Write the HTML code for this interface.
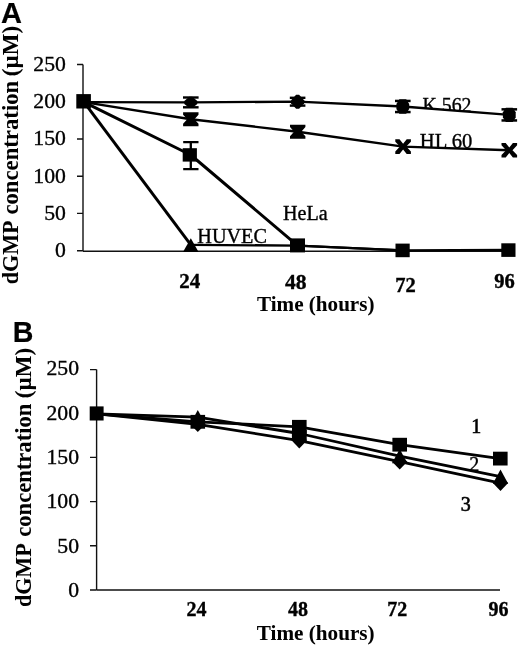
<!DOCTYPE html>
<html>
<head>
<meta charset="utf-8">
<title>dGMP concentration</title>
<style>
html,body{margin:0;padding:0;background:#fff;}
body{width:520px;height:646px;overflow:hidden;font-family:"Liberation Serif",serif;}
svg{display:block;will-change:transform;opacity:0.9999;}
text{font-family:"Liberation Serif",serif;fill:#000;stroke:#000;stroke-width:0.35;}
.t{font-size:20px;}
.b{font-size:inherit;font-weight:bold;stroke-width:0.05;}
.p{font-family:"Liberation Sans",sans-serif;font-weight:bold;font-size:20px;}
.ln{stroke:#000;stroke-width:2.8;fill:none;stroke-linejoin:round;}
.ax{stroke:#111;stroke-width:1.4;fill:none;}
.eb{stroke:#000;stroke-width:2.3;fill:none;}
</style>
</head>
<body>
<svg width="520" height="646" viewBox="0 0 520 646">
<rect width="520" height="646" fill="#fff"/>
<defs>
  <clipPath id="ck"><path d="M410,90 H485 V113.1 L410,107.7Z"/></clipPath>
  <clipPath id="ch"><path d="M410,125 H485 V149.8 L410,147.1Z"/></clipPath>
</defs>

<!-- ================= PANEL A ================= -->
<text class="p" x="0.9" y="23.2" style="font-size:29px;stroke-width:0.2">A</text>

<g transform="translate(18,0) rotate(-90)" style="font-size:22.6px">
  <text class="b" x="-284.2" y="0" textLength="63.8" lengthAdjust="spacingAndGlyphs">dGMP</text>
  <text class="b" x="-214.6" y="0" textLength="133.8" lengthAdjust="spacingAndGlyphs">concentration</text>
  <text class="b" x="-76.2" y="0" textLength="50.4" lengthAdjust="spacingAndGlyphs">(µM)</text>
</g>

<path class="ax" d="M83,64.5V251 M77,64.5H83 M77,101.7H83 M77,139H83 M77,176.2H83 M77,213.4H83 M77,250.7H83"/>
<path class="ax" d="M83,251.2H508" stroke-width="1.2"/>

<g class="t" text-anchor="end" transform="translate(65.9,0) scale(1.085,1)">
  <text x="0" y="70.9">250</text>
  <text x="0" y="108.1">200</text>
  <text x="0" y="145.4">150</text>
  <text x="0" y="182.6">100</text>
  <text x="0" y="219.8">50</text>
  <text x="0" y="257.1">0</text>
</g>
<g class="t" text-anchor="middle" style="font-weight:bold;stroke-width:0.1">
  <text x="189.7" y="288.1" textLength="21" lengthAdjust="spacingAndGlyphs">24</text>
  <text x="295.8" y="288.6" textLength="21.5" lengthAdjust="spacingAndGlyphs">48</text>
  <text x="405.4" y="292" textLength="20.5" lengthAdjust="spacingAndGlyphs">72</text>
  <text x="504.6" y="288" textLength="20.5" lengthAdjust="spacingAndGlyphs">96</text>
</g>
<text class="b" style="font-size:21px" x="257" y="311.3" textLength="117.5" lengthAdjust="spacingAndGlyphs">Time (hours)</text>

<!-- labels -->
<g clip-path="url(#ck)"><text class="t" x="422.5" y="112.2" textLength="49" lengthAdjust="spacingAndGlyphs">K 562</text></g>
<g clip-path="url(#ch)"><text class="t" x="419.8" y="147.8" textLength="52.5" lengthAdjust="spacingAndGlyphs">HL 60</text></g>
<text class="t" x="283" y="220.2" textLength="44.6" lengthAdjust="spacingAndGlyphs">HeLa</text>
<text class="t" x="197.3" y="243" textLength="69.6" lengthAdjust="spacingAndGlyphs">HUVEC</text>
<!-- series lines A -->
<path class="ln" style="stroke-width:2.3" d="M84.0,102.1 L190.8,102.4 L297.6,101.7 L402.8,106.5 L509.3,114.9"/>
<path class="ln" style="stroke-width:2.4" d="M84.0,102.1 L190.8,119.2 L297.7,131.7 L403.1,146.6 L509.3,150.2"/>
<path class="ln" style="stroke-width:3" d="M84.0,102.1 L190.8,155.0 L297.6,245.6"/>
<path class="ln" style="stroke-width:2.3" d="M297.6,245.6 L402.6,250.3 L508.4,250.0"/>
<path class="ln" style="stroke-width:3" d="M84.0,102.1 L190.8,244.8"/>
<path class="ln" style="stroke-width:2.3" d="M190.8,244.8 L297.6,245.6 L402.6,250.3"/>
<g fill="#000">
<path d="M190.8,238.2 L198.6,252.0 H183.0Z"/>
<rect x="76.3" y="94.1" width="14.6" height="14.4"/>
<rect x="182.7" y="148.2" width="14.2" height="13.4"/>
<rect x="290" y="238.4" width="15" height="14"/>
<rect x="395.5" y="243.6" width="14.2" height="13.6"/>
<rect x="501.3" y="243.3" width="14.2" height="13.6"/>
</g>
<path class="eb" d="M190.8,142.2V169.2 M183.2,142.2H198.5 M183.2,169.2H198.5"/>
<g fill="#000">
<rect x="183.0" y="96.3" width="15.6" height="2.4"/><rect x="183.0" y="106.1" width="15.6" height="2.4"/><path d="M184.3,100.9 L189.3,96.8 L192.3,96.8 L197.3,100.9 L197.3,103.9 L192.3,108.0 L189.3,108.0 L184.3,103.9Z"/>
<rect x="289.8" y="96.6" width="15.6" height="2.4"/><rect x="289.8" y="104.4" width="15.6" height="2.4"/><path d="M291.1,100.2 L296.1,94.7 L299.1,94.7 L304.1,100.2 L304.1,103.2 L299.1,108.7 L296.1,108.7 L291.1,103.2Z"/>
<rect x="395.0" y="99.7" width="15.6" height="2.5"/><rect x="395.0" y="110.8" width="15.6" height="2.5"/><path d="M396.4,103.9 L399.4,99.3 L406.2,99.3 L409.2,103.9 L409.2,109.1 L406.2,113.7 L399.4,113.7 L396.4,109.1Z"/>
<rect x="501.5" y="108.1" width="15.6" height="2.5"/><rect x="501.5" y="119.2" width="15.6" height="2.5"/><path d="M502.9,112.3 L505.9,107.7 L512.7,107.7 L515.7,112.3 L515.7,117.5 L512.7,122.1 L505.9,122.1 L502.9,117.5Z"/>
<path d="M183.1,112.3 L198.5,112.3 L198.5,114.8 L194.4,119.2 L198.5,123.8 L198.5,126.2 L183.1,126.2 L183.1,123.8 L187.2,119.2 L183.1,114.8Z"/>
<path d="M290.0,124.7 L305.4,124.7 L305.4,127.1 L301.3,131.7 L305.4,136.2 L305.4,138.7 L290.0,138.7 L290.0,136.2 L294.1,131.7 L290.0,127.1Z"/>
<path d="M395.3,139.3 L399.5,139.3 L403.1,143.8 L406.7,139.3 L410.9,139.3 L410.9,141.7 L406.3,146.6 L410.9,151.5 L410.9,153.9 L406.7,153.9 L403.1,149.4 L399.5,153.9 L395.3,153.9 L395.3,151.5 L399.9,146.6 L395.3,141.7Z"/>
<path d="M501.5,142.9 L505.7,142.9 L509.3,147.4 L512.9,142.9 L517.1,142.9 L517.1,145.3 L512.5,150.2 L517.1,155.1 L517.1,157.5 L512.9,157.5 L509.3,153.0 L505.7,157.5 L501.5,157.5 L501.5,155.1 L506.1,150.2 L501.5,145.3Z"/>
</g>

<!-- ================= PANEL B ================= -->
<text class="p" x="12.7" y="341.9" style="font-size:28.6px;stroke-width:0.2">B</text>

<g transform="translate(30.9,0) rotate(-90)" style="font-size:22.6px">
  <text class="b" x="-607.1" y="0" textLength="63.8" lengthAdjust="spacingAndGlyphs">dGMP</text>
  <text class="b" x="-536.8" y="0" textLength="133.2" lengthAdjust="spacingAndGlyphs">concentration</text>
  <text class="b" x="-398.3" y="0" textLength="50.4" lengthAdjust="spacingAndGlyphs">(µM)</text>
</g>

<path class="ax" d="M96.6,369.4V590 M90,369.6H96.6 M90,413.2H96.6 M90,457.4H96.6 M90,501.6H96.6 M90,545.8H96.6 M90,590H96.6"/>
<path class="ax" d="M96.6,590H500" stroke-width="1.2"/>

<g class="t" text-anchor="end" transform="translate(79,0) scale(1.085,1)">
  <text x="0" y="375.2">250</text>
  <text x="0" y="420">200</text>
  <text x="0" y="464.2">150</text>
  <text x="0" y="508.4">100</text>
  <text x="0" y="552.6">50</text>
  <text x="0" y="596.8">0</text>
</g>
<g class="t" text-anchor="middle" style="font-weight:bold;stroke-width:0.1">
  <text x="196.6" y="615.8">24</text>
  <text x="297.9" y="615.8">48</text>
  <text x="397.3" y="615.8">72</text>
  <text x="498.5" y="615.8">96</text>
</g>
<text class="b" style="font-size:21px" x="256.8" y="640" textLength="117.8" lengthAdjust="spacingAndGlyphs">Time (hours)</text>

<text class="t" x="471.3" y="433.3" style="stroke-width:0.6">1</text>
<text class="t" x="469.3" y="470.6">2</text>
<text class="t" x="460.8" y="511.2" style="stroke-width:0.6">3</text>

<path class="ln"  d="M97.0,413.9 L197.8,421.8 L299.3,426.8 L399.7,444.7 L500.3,458.6"/>
<path class="ln"  d="M97.0,413.9 L197.8,417.2 L299.3,433.5 L399.7,456.2 L500.5,476.7"/>
<path class="ln"  d="M97.0,413.9 L197.8,424.3 L299.3,440.6 L399.7,461.7 L500.5,483.1"/>
<g fill="#000">
<rect x="89.7" y="406.4" width="13.9" height="14.1"/>
<rect x="190.5" y="414.9" width="14.6" height="13.8"/>
<rect x="292.0" y="419.9" width="14.6" height="13.8"/>
<rect x="392.4" y="437.8" width="14.6" height="13.8"/>
<rect x="493.0" y="451.7" width="14.6" height="13.8"/>
<path d="M197.8,409.9 L205.5,424.2 H190.1Z"/>
<path d="M299.3,426.2 L307.0,440.5 H291.6Z"/>
<path d="M399.7,448.9 L407.4,463.2 H392.0Z"/>
<path d="M500.5,469.4 L508.2,483.7 H492.8Z"/>
<path d="M190.2,424.3 L197.8,416.5 L205.4,424.3 L197.8,432.1Z"/>
<path d="M291.7,440.6 L299.3,432.8 L306.9,440.6 L299.3,448.4Z"/>
<path d="M392.1,461.7 L399.7,453.9 L407.3,461.7 L399.7,469.5Z"/>
<path d="M492.9,483.1 L500.5,475.3 L508.1,483.1 L500.5,490.9Z"/>
<rect x="291.9" y="430" width="14.8" height="9.8"/>
</g>
</svg>
</body>
</html>
